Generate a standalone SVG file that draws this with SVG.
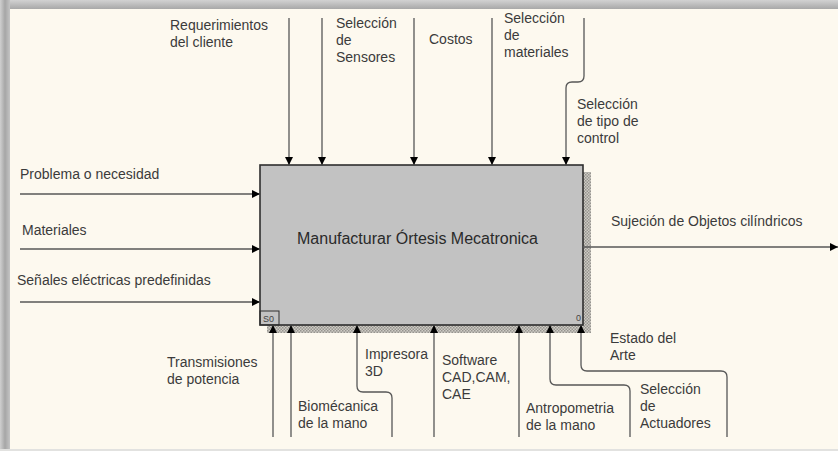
<svg xmlns="http://www.w3.org/2000/svg" width="838" height="451" viewBox="0 0 838 451">
<defs>
<linearGradient id="gTop" x1="0" y1="0" x2="0" y2="1">
<stop offset="0" stop-color="#d2d2d2"/><stop offset="1" stop-color="#a8a8a8"/>
</linearGradient>
<linearGradient id="gLeft" x1="0" y1="0" x2="1" y2="0">
<stop offset="0" stop-color="#d0d0d0"/><stop offset="0.5" stop-color="#a6a6a6"/><stop offset="1" stop-color="#c4c4c4"/>
</linearGradient>
<pattern id="hatch" width="3" height="3" patternUnits="userSpaceOnUse">
<rect width="3" height="3" fill="#cfccc5"/>
<rect width="1.5" height="1.5" fill="#96948f"/>
<rect x="1.5" y="1.5" width="1.5" height="1.5" fill="#96948f"/>
</pattern>
<marker id="arr" viewBox="0 0 8 8" refX="8" refY="4" markerWidth="8" markerHeight="8" markerUnits="userSpaceOnUse" orient="auto">
<path d="M0,0 L8,4 L0,8 z" fill="#000"/>
</marker>
<style>
.t{font-family:"Liberation Sans",Arial,sans-serif;font-size:14px;fill:#3b3b3b}
.c{fill:none;stroke:#575757;stroke-width:1.3;marker-end:url(#arr)}
</style>
</defs>
<rect width="838" height="451" fill="#fdf9ef"/>
<rect x="0" y="0" width="838" height="9" fill="url(#gTop)"/>
<rect x="0" y="0" width="10" height="451" fill="url(#gLeft)"/>
<rect x="0" y="449" width="838" height="2" fill="#e2e2e0"/>

<g id="box">
<rect x="583" y="172" width="8" height="161" fill="url(#hatch)"/>
<rect x="267" y="325" width="324" height="8" fill="url(#hatch)"/>
<rect x="260" y="165" width="323" height="160" fill="#c2c2c2" stroke="#2e2e2e" stroke-width="1.6"/>
<rect x="260" y="311" width="19" height="14" fill="none" stroke="#2e2e2e" stroke-width="1"/>
<text x="263" y="322" style="font-family:'Liberation Sans',Arial,sans-serif;font-size:9px;fill:#444">S0</text>
<text x="576" y="321" style="font-family:'Liberation Sans',Arial,sans-serif;font-size:9px;fill:#444">0</text>
<text x="297" y="244" class="t" style="font-size:16px;fill:#2a2a2a">Manufacturar Órtesis Mecatronica</text>
</g>

<g id="connectors">
<path class="c" d="M289 18 V165"/>
<path class="c" d="M322 18 V165"/>
<path class="c" d="M414 18 V165"/>
<path class="c" d="M492 18 V165"/>
<path class="c" d="M584 18 V76 Q584 82 578 82 H572 Q566 82 566 88 V165"/>
<path class="c" d="M20 194 H260"/>
<path class="c" d="M20 249 H260"/>
<path class="c" d="M20 302 H260"/>
<path class="c" d="M583 247 H838"/>
<path class="c" d="M273 437 V325"/>
<path class="c" d="M291 437 V325"/>
<path class="c" d="M392 437 V398 Q392 392 386 392 H363 Q357 392 357 386 V325"/>
<path class="c" d="M434 437 V325"/>
<path class="c" d="M519 437 V325"/>
<path class="c" d="M630 437 V391 Q630 385 624 385 H556 Q550 385 550 379 V325"/>
<path class="c" d="M727 437 V377 Q727 371 721 371 H587 Q581 371 581 365 V325"/>
</g>

<g id="controls">
<text class="t" x="170" y="30">Requerimientos</text>
<text class="t" x="170" y="47">del cliente</text>
<text class="t" x="336" y="28">Selección</text>
<text class="t" x="336" y="45">de</text>
<text class="t" x="336" y="62">Sensores</text>
<text class="t" x="429" y="44">Costos</text>
<text class="t" x="504" y="23">Selección</text>
<text class="t" x="504" y="40">de</text>
<text class="t" x="504" y="57">materiales</text>
<text class="t" x="577" y="109">Selección</text>
<text class="t" x="577" y="126">de tipo de</text>
<text class="t" x="577" y="143">control</text>
</g>

<g id="inputs">
<text class="t" x="20" y="179">Problema o necesidad</text>
<text class="t" x="22" y="235">Materiales</text>
<text class="t" x="17" y="285">Señales eléctricas predefinidas</text>
</g>

<g id="outputs">
<text class="t" x="611" y="226">Sujeción de Objetos cilíndricos</text>
</g>

<g id="mechanisms">
<text class="t" x="167" y="367">Transmisiones</text>
<text class="t" x="167" y="384">de potencia</text>
<text class="t" x="298" y="411">Biomécanica</text>
<text class="t" x="298" y="428">de la mano</text>
<text class="t" x="365" y="359">Impresora</text>
<text class="t" x="365" y="376">3D</text>
<text class="t" x="442" y="365">Software</text>
<text class="t" x="442" y="382">CAD,CAM,</text>
<text class="t" x="442" y="399">CAE</text>
<text class="t" x="526" y="413">Antropometria</text>
<text class="t" x="526" y="430">de la mano</text>
<text class="t" x="610" y="343">Estado del</text>
<text class="t" x="610" y="360">Arte</text>
<text class="t" x="640" y="394">Selección</text>
<text class="t" x="640" y="411">de</text>
<text class="t" x="640" y="428">Actuadores</text>
</g>
</svg>
